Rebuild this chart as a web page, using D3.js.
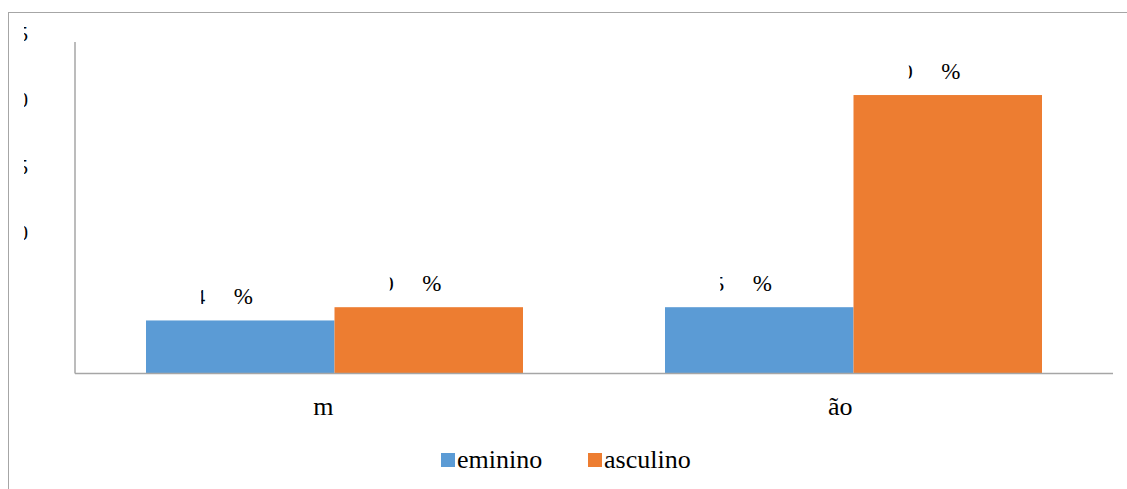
<!DOCTYPE html>
<html>
<head>
<meta charset="utf-8">
<script src="https://cdn.jsdelivr.net/npm/d3@7"></script>
<style>
  body { margin: 0; background: #fff; }
</style>
</head>
<body>
<svg id="chart" width="1127" height="489"></svg>
<script>
// data (text fragments as they show in the picture)
const categories = ['m', 'ão'];
const seriesNames = ['eminino', 'asculino'];
const feminino = [4, 5];
const masculino = [5, 21];
const femDigit = ['4', '5'];   // visible tail of each value label
const mascDigit = ['0', '0'];
const yTicks = [0, 5, 10, 15, 20, 25];
const yTickText = ['', '', '0', '5', '0', '5'];

const colors = ['#5b9bd5', '#ed7d31'];
const serif = "'Liberation Serif', 'Times New Roman', 'DejaVu Serif', serif";
const svg = d3.select('#chart');

// outer chart frame (runs off right/bottom edge)
svg.append('rect')
    .attr('x', 8.5).attr('y', 12.5)
    .attr('width', 1130).attr('height', 490)
    .attr('fill', 'none').attr('stroke', '#a6a6a6');

const x0 = d3.scaleBand().domain(categories).range([75, 1113])
    .paddingInner(0.2736).paddingOuter(0.1368);
const x1 = d3.scaleBand().domain(seriesNames).range([0, x0.bandwidth()]);
const y = d3.scaleLinear().domain([0, 25]).range([373.5, 42]);

const defs = svg.append('defs');
let clipId = 0;
// draw a digit anchored at its right edge, keeping only its last few px
function fragment(g, xr, yb, ch, keep, size) {
    const id = 'clip' + (clipId++);
    defs.append('clipPath').attr('id', id)
        .append('rect').attr('x', xr - keep).attr('y', yb - 30)
        .attr('width', keep + 1).attr('height', 40);
    g.append('text')
        .attr('x', xr).attr('y', yb)
        .attr('text-anchor', 'end')
        .style('font-family', serif)
        .style('font-size', size + 'px')
        .attr('clip-path', `url(#${id})`)
        .text(ch);
}

// y tick label fragments
const yg = svg.append('g');
yTicks.forEach((t, i) => {
    if (yTickText[i]) fragment(yg, 28, y(t) - 1, yTickText[i], 4, 20);
});

// bars
const groups = svg.append('g').selectAll('g')
    .data(categories.map((c, i) => ({ c: c, vals: [feminino[i], masculino[i]], digs: [femDigit[i], mascDigit[i]] })))
    .enter().append('g')
    .attr('transform', d => `translate(${x0(d.c)},0)`);

groups.selectAll('rect')
    .data(d => d.vals.map((v, j) => ({ s: seriesNames[j], v: v, j: j })))
    .enter().append('rect')
    .attr('x', d => x1(d.s))
    .attr('y', d => y(d.v))
    .attr('width', x1.bandwidth())
    .attr('height', d => y(0) - y(d.v))
    .attr('fill', d => colors[d.j]);

// value labels
groups.each(function (d) {
    const g = d3.select(this);
    d.vals.forEach((v, j) => {
        const cx = x1(seriesNames[j]) + x1.bandwidth() / 2;
        const yb = y(v) - 16;
        g.append('text')
            .attr('x', cx + 3).attr('y', yb)
            .attr('text-anchor', 'middle')
            .style('font-family', serif)
            .style('font-size', '23px')
            .attr('fill', '#000')
            .text('%');
        fragment(g, cx - 35, yb, d.digs[j], 4, 22);
    });
});

// axes
svg.append('line')
    .attr('x1', 75).attr('x2', 75).attr('y1', y(25)).attr('y2', y(0))
    .attr('stroke', '#a6a6a6').attr('stroke-width', 1.5);
svg.append('line')
    .attr('x1', 75).attr('x2', 1113).attr('y1', y(0)).attr('y2', y(0))
    .attr('stroke', '#a6a6a6').attr('stroke-width', 1.5);

// category label fragments
svg.append('g').selectAll('text')
    .data(categories).enter().append('text')
    .attr('x', d => x0(d) + x0.bandwidth() / 2 - 1)
    .attr('y', 415)
    .attr('text-anchor', 'end')
    .style('font-family', serif)
    .style('font-size', '26px')
    .text(d => d);

// legend
const legX = [441, 588];
const lg = svg.append('g');
seriesNames.forEach((s, i) => {
    lg.append('rect')
        .attr('x', legX[i]).attr('y', 453)
        .attr('width', 14).attr('height', 14)
        .attr('fill', colors[i]);
    lg.append('text')
        .attr('x', legX[i] + 16).attr('y', 468)
        .style('font-family', serif)
        .style('font-size', '26px')
        .text(s);
});
</script>
</body>
</html>
